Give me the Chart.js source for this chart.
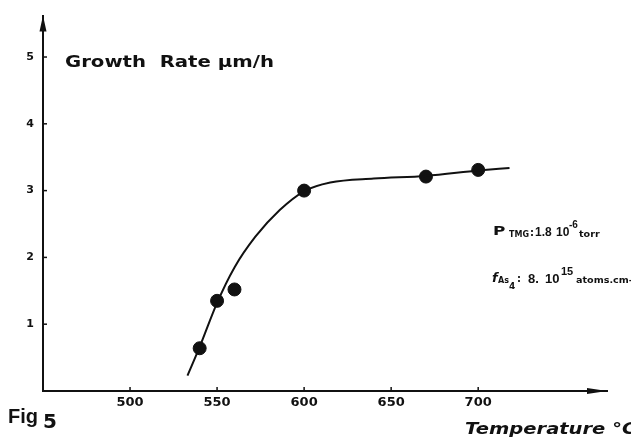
<!DOCTYPE html>
<html>
<head>
<meta charset="utf-8">
<script src="https://cdn.jsdelivr.net/npm/chart.js@4"></script>
<style>body{margin:0;background:#fff}</style>
</head>
<body>
<canvas id="fig5" width="631" height="439"></canvas>
<script>
// Valores (Fig 5)
const puntosTemp = [540, 550, 560, 600, 670, 700];
const puntosRate = [0.64, 1.35, 1.52, 3.0, 3.21, 3.31];
// Curva dibujada a mano en el original
const curvaTemp = [533, 540, 550, 560, 572, 586, 600, 615, 640, 670, 700, 718];
const curvaRate = [0.23, 0.66, 1.32, 1.85, 2.31, 2.71, 2.99, 3.12, 3.18, 3.22, 3.3, 3.34];
const xTicks = [500, 550, 600, 650, 700];
const yTicks = [1, 2, 3, 4, 5];

const ink = '#111';

// Escribe un texto, estirado a lo ancho si hace falta
function write(ctx, text, x, y, font, stretch) {
  ctx.save();
  ctx.font = font;
  ctx.translate(x, y);
  ctx.scale(stretch || 1, 1);
  ctx.fillText(text, 0, 0);
  ctx.restore();
}

// Flechas, marcas y textos
const decoPlugin = {
  id: 'deco',
  afterDraw(chart) {
    const ctx = chart.ctx;
    const {left, right, top, bottom} = chart.chartArea;
    const xs = chart.scales.x;
    const ys = chart.scales.y;
    ctx.save();
    ctx.fillStyle = ink;
    ctx.strokeStyle = ink;
    ctx.lineWidth = 1.5;
    // flechas de los ejes
    ctx.beginPath();
    ctx.moveTo(left, top);
    ctx.lineTo(left - 3.5, top + 16);
    ctx.lineTo(left + 3.5, top + 16);
    ctx.closePath();
    ctx.fill();
    ctx.beginPath();
    ctx.moveTo(right, bottom);
    ctx.lineTo(right - 20, bottom - 3);
    ctx.lineTo(right - 20, bottom + 3);
    ctx.closePath();
    ctx.fill();
    // marcas chicas
    xTicks.forEach(v => {
      const px = xs.getPixelForValue(v);
      ctx.beginPath();
      ctx.moveTo(px, bottom);
      ctx.lineTo(px, bottom - 4);
      ctx.stroke();
    });
    yTicks.forEach(v => {
      const py = ys.getPixelForValue(v);
      ctx.beginPath();
      ctx.moveTo(left, py);
      ctx.lineTo(left + 4, py);
      ctx.stroke();
    });
    // textos
    ctx.textBaseline = 'alphabetic';
    ctx.textAlign = 'left';
    write(ctx, 'Growth  Rate μm/h', 65, 67, 'bold 16px "DejaVu Sans"', 1.23);
    write(ctx, 'Fig', 8, 423, 'bold 20px "Liberation Sans"');
    write(ctx, '5', 43, 428, 'bold 20px "DejaVu Sans"');
    write(ctx, 'Temperature °C', 465, 434, 'italic bold 15px "DejaVu Sans"', 1.3);
    // condiciones
    write(ctx, 'P', 493, 235, 'bold 13px "DejaVu Sans"', 1.3);
    write(ctx, 'TMG', 509, 237, 'bold 8px "DejaVu Sans"');
    write(ctx, ':', 530, 236, 'bold 10px "DejaVu Sans"');
    write(ctx, '1.8', 535, 236, 'bold 12px "Liberation Sans"');
    write(ctx, '10', 556, 236, 'bold 12px "Liberation Sans"');
    write(ctx, '-6', 569, 228, 'bold 10px "Liberation Sans"');
    write(ctx, 'torr', 579, 237, 'bold 8px "DejaVu Sans"', 1.2);
    write(ctx, 'f', 492, 282, 'italic bold 13px "DejaVu Sans"');
    write(ctx, 'As', 498, 283, 'bold 8px "DejaVu Sans"');
    write(ctx, '4', 509, 289, 'bold 9px "DejaVu Sans"');
    write(ctx, ':', 517, 282, 'bold 10px "DejaVu Sans"');
    write(ctx, '8.', 528, 283, 'bold 13px "Liberation Sans"');
    write(ctx, '10', 545, 283, 'bold 13px "Liberation Sans"');
    write(ctx, '15', 561, 275, 'bold 11px "Liberation Sans"');
    write(ctx, 'atoms.cm-2.s-1', 576, 283, 'bold 8px "DejaVu Sans"', 1.2);
    ctx.restore();
  },
};

const data = {
  datasets: [
    {
      label: 'curva',
      data: curvaTemp.map((t, i) => ({x: t, y: curvaRate[i]})),
      showLine: true,
      borderColor: ink,
      borderWidth: 2,
      pointRadius: 0,
      cubicInterpolationMode: 'monotone',
    },
    {
      label: 'puntos',
      data: puntosTemp.map((t, i) => ({x: t, y: puntosRate[i]})),
      backgroundColor: ink,
      borderColor: ink,
      pointRadius: 6.5,
      showLine: false,
    },
  ],
};

const config = {
  type: 'scatter',
  data: data,
  options: {
    responsive: false,
    animation: false,
    devicePixelRatio: 1,
    layout: {padding: {left: 0, top: 8, right: 24, bottom: 0}},
    plugins: {
      legend: {display: false},
      tooltip: {enabled: false},
    },
    scales: {
      x: {
        type: 'linear',
        min: 450,
        max: 774,
        afterBuildTicks: (s) => { s.ticks = xTicks.map(v => ({value: v})); },
        afterFit: (s) => { s.height = 48; },
        grid: {display: false, drawTicks: false},
        border: {display: true, color: ink, width: 2},
        ticks: {
          color: ink,
          padding: 4,
          maxRotation: 0,
          font: {family: 'DejaVu Sans', weight: 'bold', size: 13},
        },
      },
      y: {
        min: 0,
        max: 5.62,
        afterBuildTicks: (s) => { s.ticks = yTicks.map(v => ({value: v})); },
        afterFit: (s) => { s.width = 43; },
        grid: {display: false, drawTicks: false},
        border: {display: true, color: ink, width: 2},
        ticks: {
          color: ink,
          padding: 9,
          font: {family: 'DejaVu Sans', weight: 'bold', size: 11},
        },
      },
    },
  },
  plugins: [decoPlugin],
};

new Chart(document.getElementById('fig5'), config);
</script>
</body>
</html>
